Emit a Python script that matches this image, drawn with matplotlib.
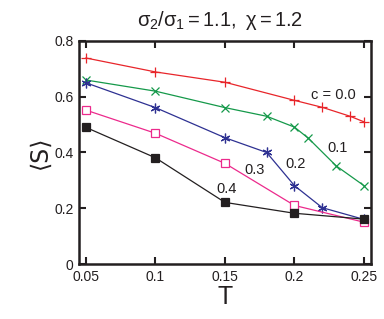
import matplotlib
matplotlib.use("Agg")
import matplotlib.pyplot as plt

plt.rcParams['font.family'] = ['Liberation Sans', 'DejaVu Sans']
plt.rcParams['mathtext.fontset'] = 'custom'
plt.rcParams['mathtext.rm'] = 'Liberation Sans'
plt.rcParams['mathtext.it'] = 'Liberation Sans'

# data
T_c00 = [0.05, 0.1, 0.15, 0.2, 0.22, 0.24, 0.25]
S_c00 = [0.739, 0.689, 0.652, 0.587, 0.562, 0.530, 0.510]

T_c01 = [0.05, 0.1, 0.15, 0.18, 0.2, 0.21, 0.23, 0.25]
S_c01 = [0.660, 0.620, 0.561, 0.530, 0.491, 0.451, 0.352, 0.281]

T_c02 = [0.05, 0.1, 0.15, 0.18, 0.2, 0.22, 0.25]
S_c02 = [0.650, 0.561, 0.453, 0.400, 0.281, 0.202, 0.160]

T_c03 = [0.05, 0.1, 0.15, 0.2, 0.25]
S_c03 = [0.552, 0.469, 0.361, 0.210, 0.150]

T_c04 = [0.05, 0.1, 0.15, 0.2, 0.25]
S_c04 = [0.490, 0.381, 0.221, 0.182, 0.161]

labels = ["c = 0.0", "0.1", "0.2", "0.3", "0.4"]
label_pos = [(0.228, 0.606), (0.231, 0.416), (0.201, 0.359), (0.1716, 0.337), (0.151, 0.269)]

fig = plt.figure(figsize=(3.84, 3.19), dpi=100)
ax = fig.add_axes([0.2057, 0.1724, 0.7603, 0.6991])

lw = 0.9
ax.plot(T_c00, S_c00, color='#e8252a', lw=lw, marker='+', ms=7, mew=0.9)
ax.plot(T_c01, S_c01, color='#15994a', lw=lw, marker='x', ms=6, mew=0.9)
ax.plot(T_c02, S_c02, color='#2e3192', lw=lw, marker=(6, 2, 0), ms=7, mew=0.9)
ax.plot(T_c03, S_c03, color='#ec2a8c', lw=lw, marker='s', ms=6, mew=0.9,
        mfc='white')
ax.plot(T_c04, S_c04, color='#231f20', lw=lw, marker='s', ms=5.5, mew=0.9)

for txt, (x, y) in zip(labels, label_pos):
    ax.text(x, y, txt, fontsize=10.5, ha='center', va='center', color='#231f20')

ax.set_xlim(0.045, 0.255)
ax.set_ylim(0, 0.8)
ax.set_xticks([0.05, 0.1, 0.15, 0.2, 0.25])
ax.set_xticklabels(["0.05", "0.1", "0.15", "0.2", "0.25"])
ax.set_yticks([0, 0.2, 0.4, 0.6, 0.8])
ax.set_yticklabels(["0", "0.2", "0.4", "0.6", "0.8"])
ax.tick_params(direction='in', length=5, width=1.5, labelsize=10,
               top=True, right=True, colors='#231f20', pad=4)
for sp in ax.spines.values():
    sp.set_linewidth(1.8)
    sp.set_color('#231f20')

ax.set_xlabel("T", fontsize=18, labelpad=1, color='#231f20')
ax.set_ylabel("\u27e8S\u27e9", fontsize=17, labelpad=2, color='#231f20',
              family=['DejaVu Sans'])
fig.text(0.572, 0.937, r"$\sigma_2/\sigma_1 = 1.1,\ \chi = 1.2$", fontsize=14.5,
         ha='center', va='center', color='#231f20')

fig.savefig("out.png", dpi=100)
